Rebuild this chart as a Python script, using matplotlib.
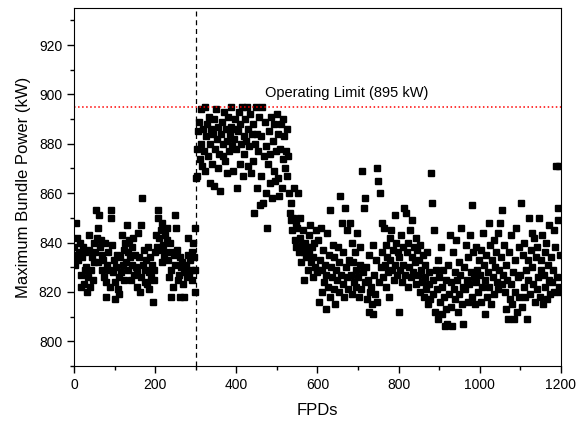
import numpy as np
import matplotlib
matplotlib.use("Agg")
import matplotlib.pyplot as plt
from matplotlib.ticker import MultipleLocator

plt.rcParams["font.family"] = ["Liberation Sans", "DejaVu Sans"]

# FPD sampling grids for each operating period (every 2 FPD)
fpd_before = np.arange(0, 300, 2)
fpd_after = np.arange(300, 530, 2)
fpd_decline = np.arange(530, 600, 2)
fpd_late = np.arange(600, 1200, 2)

# maximum bundle power (kW)
power_before = [
    838, 831, 848, 835, 842, 833,
    836, 840, 827, 822, 834, 838, 823, 829, 836, 830,
    820, 826, 837, 843, 822, 829, 834, 825, 832, 840,
    836, 853, 842, 846, 832, 851, 838, 841, 829, 835,
    833, 826, 840, 824, 818, 831, 836, 829, 822, 853,
    850, 839, 828, 833, 824, 817, 830, 835, 821, 826,
    819, 834, 828, 843, 831, 825, 837, 840, 832, 847,
    836, 829, 841, 834, 825, 838, 831, 842, 827, 835,
    830, 822, 828, 844, 834, 820, 826, 847, 858, 831,
    837, 824, 829, 833, 823, 838, 828, 821, 834, 826,
    831, 816, 825, 829, 836, 843, 838, 850, 853, 842,
    837, 845, 832, 848, 839, 834, 843, 836, 846, 841,
    833, 826, 840, 818, 829, 836, 822, 835, 831, 851,
    846, 837, 825, 827, 834, 818, 830, 832, 823, 828,
    818, 829, 831, 826, 835, 842, 827, 833, 829, 836,
    825, 840, 834, 829,
]

power_after = [
    866, 878, 867, 885, 889, 874, 880, 894, 871, 886,
    877, 895, 869, 883, 888, 875, 891, 864, 880, 886,
    872, 884, 863, 890, 878, 894, 882, 870, 887, 876,
    861, 884, 889, 875, 880, 893, 873, 886, 881, 868,
    891, 877, 884, 895, 887, 879, 869, 882, 890, 886,
    878, 862, 885, 893, 872, 888, 880, 895, 867, 883,
    876, 890, 881, 895, 871, 886, 879, 892, 868, 884,
    873, 888, 852, 880, 895, 862, 884, 877, 891, 855,
    867, 883, 895, 856, 875, 889, 860, 879, 846, 872,
    885, 864, 876, 891, 858, 881, 869, 888, 865, 877,
    892, 866, 884, 859, 878, 888, 862, 874, 890, 883,
    870, 877, 886, 867, 875,
]

power_decline = [
    860, 852, 849, 856, 845, 850, 862, 841, 848, 838,
    846, 860, 836, 842, 850, 832, 839, 845, 825, 836,
    840, 834, 838, 829, 843, 836, 847, 832, 838, 826,
    834, 840, 830, 845, 829,
]

power_late = [
    828, 841, 816, 833, 846, 820, 829, 837, 824, 831,
    813, 827, 844, 822, 835, 818, 853, 830, 826, 839,
    821, 834, 815, 829, 825, 838, 820, 832, 859, 827,
    848, 823, 836, 818, 854, 830, 826, 845, 821, 833,
    848, 827, 840, 819, 832, 824, 836, 829, 822, 844,
    826, 818, 838, 831, 821, 869, 828, 854, 824, 858,
    830, 817, 825, 812, 835, 820, 822, 815, 839, 811,
    827, 819, 833, 816, 870, 865, 824, 860, 830, 848,
    836, 826, 846, 831, 822, 839, 834, 828, 818, 842,
    833, 845, 829, 837, 825, 851, 831, 840, 827, 836,
    812, 834, 829, 843, 824, 838, 831, 854, 827, 852,
    836, 822, 840, 830, 845, 826, 834, 849, 828, 838,
    832, 823, 842, 837, 827, 833, 820, 839, 829, 824,
    835, 818, 826, 831, 821, 836, 815, 828, 823, 817,
    868, 856, 825, 819, 845, 812, 829, 821, 833, 809,
    826, 816, 838, 822, 811, 829, 818, 806, 825, 813,
    807, 831, 819, 843, 814, 824, 806, 836, 821, 828,
    817, 841, 825, 812, 832, 819, 827, 846, 815, 822,
    807, 830, 821, 839, 825, 816, 834, 823, 843, 828,
    855, 818, 836, 826, 815, 838, 824, 829, 820, 833,
    827, 816, 837, 822, 844, 831, 811, 825, 835, 818,
    828, 848, 822, 839, 815, 833, 826, 841, 819, 830,
    836, 824, 844, 821, 829, 848, 834, 823, 853, 827,
    839, 820, 813, 831, 825, 809, 836, 817, 823, 843,
    815, 828, 809, 833, 820, 846, 812, 826, 838, 818,
    827, 856, 814, 835, 822, 840, 818, 829, 809, 833,
    825, 850, 819, 837, 830, 844, 823, 842, 816, 834,
    821, 838, 826, 850, 818, 833, 829, 843, 815, 827,
    836, 822, 840, 817, 831, 825, 847, 819, 834, 824,
    829, 845, 820, 838, 871, 826, 849, 854, 822, 835,
]

# a few isolated points
fpd_extra = [299, 299, 1195, 1197]
power_extra = [846, 820, 871, 820]

refuel_fpd = 300
operating_limit = 895

fig, ax = plt.subplots(figsize=(5.83, 4.24), dpi=100)
fig.subplots_adjust(left=0.127, right=0.962, top=0.981, bottom=0.137)

for x, y in [
    (fpd_before, power_before),
    (fpd_after, power_after),
    (fpd_decline, power_decline),
    (fpd_late, power_late),
    (fpd_extra, power_extra),
]:
    ax.plot(x, y, linestyle="none", marker="s", markersize=3.8, color="black")

ax.axvline(refuel_fpd, color="black", linestyle=(0, (4, 3)), linewidth=0.9)
ax.axhline(operating_limit, color="red", linestyle=":", linewidth=1.1)
ax.text(471, 900.5, "Operating Limit (895 kW)", fontsize=10.5, ha="left", va="center")

ax.set_xlim(0, 1200)
ax.set_ylim(790, 935)
ax.xaxis.set_major_locator(MultipleLocator(200))
ax.xaxis.set_minor_locator(MultipleLocator(100))
ax.yaxis.set_major_locator(MultipleLocator(20))
ax.yaxis.set_minor_locator(MultipleLocator(10))
ax.set_yticks(np.arange(800, 921, 20))
ax.tick_params(which="both", direction="out", top=False, right=False, labelsize=10)
ax.tick_params(which="major", length=5, width=1)
ax.tick_params(which="minor", length=3, width=1)
ax.set_xlabel("FPDs", fontsize=12, labelpad=8)
ax.set_ylabel("Maximum Bundle Power (kW)", fontsize=12, labelpad=6)

fig.savefig("out.png", dpi=100)
